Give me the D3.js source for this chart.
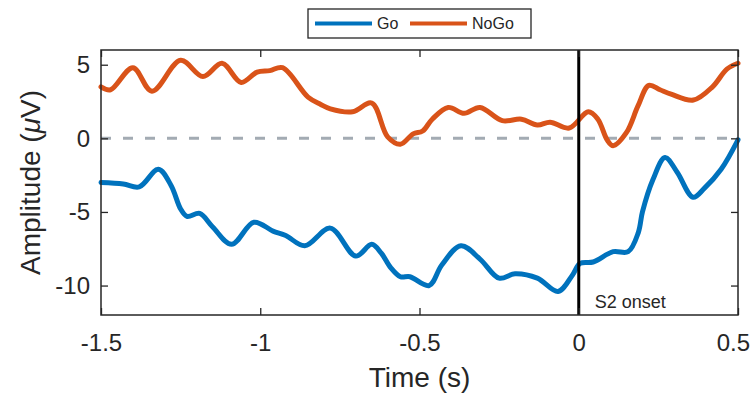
<!DOCTYPE html>
<html>
<head>
<meta charset="utf-8">
<script src="https://cdn.jsdelivr.net/npm/d3@7"></script>
<style>
  html, body { margin: 0; padding: 0; background: #fff; }
  svg { display: block; font-family: "Liberation Sans", Arial, Helvetica, sans-serif; }
</style>
</head>
<body>
<svg id="chart" width="751" height="395"></svg>
<script>
// Grand-average ERP at one electrode, time-locked to S2 onset
const goTime = [-1.5, -1.43, -1.38, -1.32, -1.28, -1.25, -1.23, -1.19, -1.15, -1.09, -1.02, -0.96, -0.92, -0.86, -0.78,
  -0.70, -0.65, -0.62, -0.59, -0.56, -0.53, -0.47, -0.43, -0.37, -0.31, -0.25, -0.20, -0.13, -0.065, -0.02,
  0.004, 0.045, 0.108, 0.155, 0.187, 0.20, 0.233, 0.271, 0.309, 0.359, 0.394, 0.447, 0.5];
const goAmp = [-3.0, -3.1, -3.3, -2.1, -3.2, -4.8, -5.3, -5.1, -6.0, -7.2, -5.7, -6.3, -6.6, -7.3, -6.1,
  -8.0, -7.2, -7.8, -8.8, -9.4, -9.4, -10.0, -8.6, -7.3, -8.2, -9.5, -9.2, -9.5, -10.4, -9.3,
  -8.5, -8.4, -7.7, -7.7, -6.4, -5.0, -2.8, -1.3, -2.3, -4.0, -3.4, -2.1, -0.1];

const nogoTime = [-1.5, -1.47, -1.40, -1.34, -1.25, -1.18, -1.12, -1.06, -1.01, -0.97, -0.93, -0.85, -0.81, -0.78,
  -0.71, -0.65, -0.60, -0.56, -0.52, -0.49, -0.46, -0.41, -0.36, -0.31, -0.24, -0.18, -0.13, -0.09, -0.03,
  0.03, 0.06, 0.089, 0.108, 0.15, 0.186, 0.22, 0.255, 0.29, 0.36, 0.42, 0.465, 0.5];
const nogoAmp = [3.5, 3.3, 4.8, 3.2, 5.3, 4.2, 5.1, 3.8, 4.5, 4.6, 4.8, 2.8, 2.3, 2.0,
  1.8, 2.4, 0.1, -0.4, 0.3, 0.5, 1.3, 2.1, 1.7, 2.1, 1.2, 1.3, 0.9, 1.1, 0.7,
  1.8, 1.3, -0.1, -0.5, 0.4, 2.2, 3.6, 3.3, 3.0, 2.6, 3.5, 4.7, 5.1];

const seriesNames = ["Go", "NoGo"];
const seriesColors = ["#0072BD", "#D95319"];
const xTicks = [-1.5, -1, -0.5, 0, 0.5];
const yTicks = [-10, -5, 0, 5];
const xDomain = [-1.5, 0.5];
const yDomain = [-12, 6];
const onsetTime = 0;
const onsetLabel = "S2 onset";

const svg = d3.select("#chart");
const margin = { left: 101, right: 13, top: 50, bottom: 80 };
const W = 751, H = 395;
const x0 = margin.left, x1 = W - margin.right, y0 = margin.top, y1 = H - margin.bottom;

const x = d3.scaleLinear().domain(xDomain).range([x0, x1]);
const y = d3.scaleLinear().domain(yDomain).range([y1, y0]);

const axisColor = "#262626";
const tickFont = 24;

// zero reference line
svg.append("line")
  .attr("x1", x0).attr("x2", x1)
  .attr("y1", y(0)).attr("y2", y(0))
  .attr("stroke", "#a3abb3").attr("stroke-width", 3)
  .attr("stroke-dasharray", "10,12");

// waveforms
const line = d3.line().curve(d3.curveCatmullRom.alpha(0.5))
  .x(d => x(d[0])).y(d => y(d[1]));
const series = [
  d3.zip(goTime, goAmp),
  d3.zip(nogoTime, nogoAmp)
];
series.forEach((s, i) => {
  svg.append("path")
    .datum(s)
    .attr("d", line)
    .attr("fill", "none")
    .attr("stroke", seriesColors[i])
    .attr("stroke-width", 5)
    .attr("stroke-linejoin", "round")
    .attr("stroke-linecap", "round");
});

// stimulus onset marker
svg.append("line")
  .attr("x1", x(onsetTime)).attr("x2", x(onsetTime))
  .attr("y1", y0).attr("y2", y1)
  .attr("stroke", "#000").attr("stroke-width", 3);
svg.append("text")
  .attr("x", x(onsetTime) + 16).attr("y", y1 - 7)
  .attr("font-size", 18).attr("fill", axisColor)
  .text(onsetLabel);

// axes with inward ticks on all four sides
function styleAxis(g) {
  g.select(".domain").remove();
  g.selectAll(".tick line").attr("stroke", axisColor).attr("stroke-width", 1.3);
  g.selectAll(".tick text").attr("fill", axisColor).attr("font-size", tickFont).attr("font-family", null);
}
const fmt = d => d3.format("")(d).replace("−", "-");

const xAxisG = svg.append("g").attr("transform", `translate(0,${y1})`)
  .call(d3.axisBottom(x).tickValues(xTicks).tickSize(-7).tickPadding(19).tickFormat(fmt))
  .call(styleAxis);
// keep the outermost tick label inside the figure
xAxisG.selectAll(".tick text").each(function () {
  const b = this.getBBox();
  const tr = this.parentNode.getAttribute("transform");
  const tx = +tr.match(/translate\(([-\d.]+)/)[1];
  const overflow = tx + b.x + b.width - (W - 1);
  if (overflow > 0) d3.select(this).attr("x", -overflow);
});
svg.append("g").attr("transform", `translate(0,${y0})`)
  .call(d3.axisTop(x).tickValues(xTicks).tickSize(-7).tickFormat(""))
  .call(styleAxis);
svg.append("g").attr("transform", `translate(${x0},0)`)
  .call(d3.axisLeft(y).tickValues(yTicks).tickSize(-7).tickPadding(11).tickFormat(fmt))
  .call(styleAxis);
svg.append("g").attr("transform", `translate(${x1},0)`)
  .call(d3.axisRight(y).tickValues(yTicks).tickSize(-7).tickFormat(""))
  .call(styleAxis);

svg.append("rect")
  .attr("x", x0).attr("y", y0).attr("width", x1 - x0).attr("height", y1 - y0)
  .attr("fill", "none").attr("stroke", axisColor).attr("stroke-width", 1.5);

// axis titles
svg.append("text")
  .attr("x", (x0 + x1) / 2).attr("y", 387)
  .attr("text-anchor", "middle").attr("font-size", 28).attr("fill", axisColor)
  .text("Time (s)");
const yl = svg.append("text")
  .attr("transform", `translate(40,${(y0 + y1) / 2}) rotate(-90)`)
  .attr("text-anchor", "middle").attr("font-size", 28).attr("fill", axisColor);
yl.append("tspan").text("Amplitude (");
yl.append("tspan").attr("font-style", "italic").text("μ");
yl.append("tspan").text("V)");

// legend
const lg = svg.append("g");
lg.append("rect").attr("x", 308).attr("y", 9).attr("width", 223).attr("height", 29)
  .attr("fill", "#fff").attr("stroke", axisColor).attr("stroke-width", 1.3);
const legendItems = [
  { lx: 315, tx: 377 },
  { lx: 410, tx: 472 }
];
seriesNames.forEach((name, i) => {
  lg.append("line")
    .attr("x1", legendItems[i].lx).attr("x2", legendItems[i].lx + 57)
    .attr("y1", 23.5).attr("y2", 23.5)
    .attr("stroke", seriesColors[i]).attr("stroke-width", 4);
  lg.append("text")
    .attr("x", legendItems[i].tx).attr("y", 29)
    .attr("font-size", 16).attr("fill", axisColor)
    .text(name);
});
</script>
</body>
</html>
